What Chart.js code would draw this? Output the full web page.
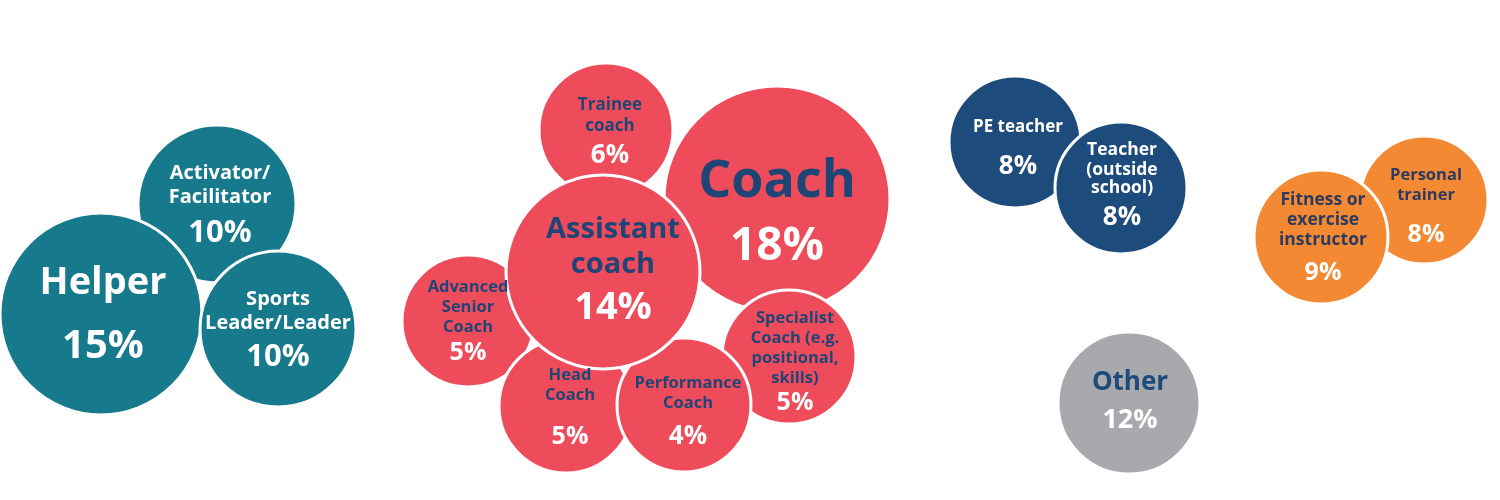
<!DOCTYPE html>
<html>
<head>
<meta charset="utf-8">
<script src="https://cdn.jsdelivr.net/npm/chart.js@4"></script>
<style>
  html, body { margin: 0; padding: 0; background: #ffffff; }
  #wrap { width: 1500px; height: 500px; position: relative; }
</style>
</head>
<body>
<div id="wrap"><canvas id="c"></canvas></div>
<script>
// ---- data (drawing order: later items overlap earlier ones) ----
const categories = [
  'Activator/\nFacilitator', 'Helper', 'Sports\nLeader/Leader',
  'Trainee\ncoach', 'Coach', 'Specialist\nCoach (e.g.\npositional,\nskills)',
  'Advanced\nSenior\nCoach', 'Head\nCoach', 'Performance\nCoach', 'Assistant\ncoach',
  'PE teacher', 'Teacher\n(outside\nschool)',
  'Personal\ntrainer', 'Fitness or\nexercise\ninstructor',
  'Other'
];
const groups = [
  'leader', 'leader', 'leader',
  'coach', 'coach', 'coach', 'coach', 'coach', 'coach', 'coach',
  'teacher', 'teacher',
  'fitness', 'fitness',
  'other'
];
const percentages = [10, 15, 10, 6, 18, 5, 5, 5, 4, 14, 8, 8, 8, 9, 12];
const bubbleX = [217, 101, 278, 606, 777, 789, 468, 566, 684, 603, 1015, 1121, 1424, 1321, 1129];
const bubbleY = [204, 314, 329, 130, 199, 357, 321, 406, 405, 272, 142, 188, 200, 237, 403];
const bubbleR = [79, 101, 78, 67, 113, 67, 66, 67, 67, 97, 66, 66, 64, 67, 71];

// ---- styles ----
const palette = {
  leader:  { fill: '#17798c', name: '#ffffff', pct: '#ffffff' },
  coach:   { fill: '#ef4c5b', name: '#1f4577', pct: '#ffffff' },
  teacher: { fill: '#1c4b7c', name: '#ffffff', pct: '#ffffff' },
  fitness: { fill: '#f38a33', name: '#2b3a5e', pct: '#ffffff' },
  other:   { fill: '#a7a9ac', name: '#1c4b7c', pct: '#ffffff' }
};
// label layout per bubble (relative to bubble centre)
const labelStyle = [
  { dx: 3, nf: 20, lines: [-31, -7], pd: 29, pf: 31 },
  { dx: 2, nf: 38, lines: [-31], pd: 33, pf: 40 },
  { dx: 0, nf: 20, lines: [-30, -6], pd: 28, pf: 31 },
  { dx: 4, nf: 17, lines: [-25, -4], pd: 26, pf: 26 },
  { dx: 0, nf: 52, lines: [-17], pd: 48, pf: 46 },
  { dx: 6, nf: 16.5, lines: [-39, -19, 1, 21], pd: 46, pf: 25 },
  { dx: 0, nf: 16.5, lines: [-34, -14, 6], pd: 32, pf: 25 },
  { dx: 4, nf: 16.5, lines: [-31, -11], pd: 31, pf: 25 },
  { dx: 4, nf: 16.5, lines: [-22, -2], pd: 32, pf: 26 },
  { dx: 10, nf: 29, lines: [-42, -7], pd: 36, pf: 38 },
  { dx: 3, nf: 17, lines: [-15], pd: 25, pf: 26 },
  { dx: 1, nf: 17.5, lines: [-38, -18, 0], pd: 30, pf: 26 },
  { dx: 2, nf: 16.5, lines: [-25, -5], pd: 35, pf: 25 },
  { dx: 2, nf: 17.5, lines: [-37, -17, 3], pd: 36, pf: 25 },
  { dx: 1, nf: 26, lines: [-20], pd: 17, pf: 27 }
];

const FONT = '"Open Sans", "DejaVu Sans", sans-serif';

const points = categories.map((c, i) => ({ x: bubbleX[i], y: bubbleY[i], r: bubbleR[i] }));

const labelPlugin = {
  id: 'bubbleLabels',
  afterDatasetsDraw(chart) {
    const ctx = chart.ctx;
    const meta = chart.getDatasetMeta(0);
    ctx.save();
    ctx.textAlign = 'center';
    ctx.textBaseline = 'middle';
    meta.data.forEach((el, i) => {
      const st = labelStyle[i];
      const col = palette[groups[i]];
      const cx = el.x + st.dx;
      const cy = el.y;
      const lines = categories[i].split('\n');
      ctx.fillStyle = col.name;
      ctx.font = '700 ' + st.nf + 'px ' + FONT;
      lines.forEach((ln, k) => ctx.fillText(ln, cx, cy + st.lines[k]));
      ctx.fillStyle = col.pct;
      ctx.font = '700 ' + st.pf + 'px ' + FONT;
      ctx.fillText(percentages[i] + '%', cx, cy + st.pd);
    });
    ctx.restore();
  }
};

new Chart(document.getElementById('c'), {
  type: 'bubble',
  data: {
    datasets: [{
      label: 'Roles',
      data: points,
      backgroundColor: groups.map(g => palette[g].fill),
      borderColor: '#ffffff',
      borderWidth: 3,
      hoverRadius: 0,
      hoverBorderWidth: 3,
      clip: false
    }]
  },
  options: {
    responsive: true,
    maintainAspectRatio: false,
    animation: false,
    events: [],
    layout: { padding: 0, autoPadding: false },
    scales: {
      x: { type: 'linear', min: 0, max: 1500, display: false },
      y: { type: 'linear', min: 0, max: 500, reverse: true, display: false }
    },
    plugins: {
      legend: { display: false },
      tooltip: { enabled: false }
    }
  },
  plugins: [labelPlugin]
});
</script>
</body>
</html>
